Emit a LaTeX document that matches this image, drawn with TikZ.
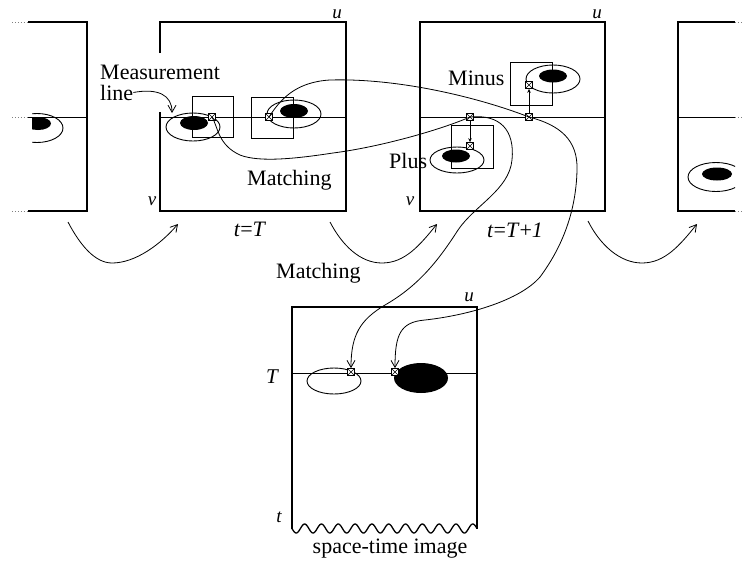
\documentclass[tikz,border=0pt]{standalone}
\usepackage{fontspec}
\setmainfont{Liberation Serif}
\usetikzlibrary{arrows.meta}
\begin{document}
\begin{tikzpicture}[x=1pt,y=-1pt,
  frame/.style={line width=1.3pt},
  mline/.style={line width=1pt},
  stub/.style={line width=0.9pt, dotted, gray},
  winbox/.style={line width=0.7pt},
  ring/.style={line width=0.9pt},
  blob/.style={fill=black},
  conn/.style={line width=0.8pt, -{Straight Barb[length=7pt,width=8pt]}},
  small arrow/.style={line width=0.7pt, -{Stealth[length=4pt,width=3.5pt]}},
  mk/.style={draw, fill=white, rectangle, minimum size=7pt, inner sep=0pt, line width=0.7pt,
    path picture={\draw[line width=0.6pt] (path picture bounding box.south west) -- (path picture bounding box.north east)
      (path picture bounding box.north west) -- (path picture bounding box.south east);}},
  lbl/.style={font=\fontsize{22}{24}\selectfont, inner sep=0pt},
  axis/.style={font=\fontsize{19}{20}\selectfont\itshape, inner sep=0pt},
]
\useasboundingbox (0,0) rectangle (743,563);

% ---------- frame 1 (partial, left) ----------
\draw[stub] (12,22) -- (28,22);
\draw[stub] (12,211) -- (28,211);
\draw[stub] (12,117) -- (28,117);
\draw[frame] (28,22) -- (87,22) -- (87,211) -- (28,211);
\draw[mline] (28,117) -- (87,117);
\begin{scope}
  \clip (32,0) rectangle (87,230);
  \draw[ring] (37,128) ellipse [x radius=26, y radius=14.5];
  \fill[blob] (38,123.5) ellipse [x radius=13, y radius=6.5];
\end{scope}

% ---------- frame 2 (t=T) ----------
\draw[frame] (160,53) -- (160,22) -- (346,22) -- (346,211) -- (160,211) -- (160,112);
\draw[mline] (160,117) -- (346,117);
\node[axis] (u2) at (337,14) {u};
\node[axis] (v2) at (152,201) {v};
\draw[winbox] (192,96) rectangle (233,137);
\draw[ring] (193,127) ellipse [x radius=27, y radius=14];
\fill[blob] (194,123) ellipse [x radius=14, y radius=7];
\draw[winbox] (251,97) rectangle (293,138);
\draw[ring] (294,114) ellipse [x radius=27, y radius=14];
\fill[blob] (294,111) ellipse [x radius=14, y radius=7];
\node[lbl, anchor=base west] (meas1) at (100,79) {Measurement};
\node[lbl, anchor=base west] (meas2) at (100,100) {line};
\node[lbl, anchor=base west] (match1) at (247,185) {Matching};
\node[lbl, anchor=base] (tT) at (250,236) {\textit{t}=\textit{T}};

% ---------- frame 3 (t=T+1) ----------
\draw[frame] (420,22) rectangle (605,211);
\draw[mline] (420,117) -- (605,117);
\node[axis] (u3) at (597,14) {u};
\node[axis] (v3) at (410,201) {v};
\draw[winbox] (510,62) rectangle (552,105);
\draw[ring] (553,79) ellipse [x radius=27, y radius=14];
\fill[blob] (553,76) ellipse [x radius=14, y radius=6.5];
\draw[winbox] (451,125) rectangle (493,168);
\draw[ring] (457,160) ellipse [x radius=27, y radius=13];
\fill[blob] (456,156) ellipse [x radius=14, y radius=6.5];
\node[lbl, anchor=base west] (minus) at (448,85) {Minus};
\node[lbl, anchor=base west] (plus) at (389,168) {Plus};
\node[lbl, anchor=base] (tT1) at (515,237) {\textit{t}=\textit{T}+\textit{1}};

% ---------- frame 4 (partial, right) ----------
\draw[frame] (735,22) -- (678,22) -- (678,211) -- (735,211);
\draw[mline] (678,117) -- (735,117);
\draw[stub] (735,22) -- (743,22);
\draw[stub] (735,117) -- (743,117);
\draw[stub] (735,211) -- (743,211);
\begin{scope}
  \clip (678,0) rectangle (735,230);
  \draw[ring] (716,177) ellipse [x radius=28, y radius=14.5];
  \fill[blob] (717,174) ellipse [x radius=15, y radius=6.5];
\end{scope}

% ---------- space-time image ----------
\draw[frame] (292,529) -- (292,307) -- (477,307) -- (477,529);
\draw[frame] plot[domain=0:185, samples=240, smooth] ({292+\x},{528.5+4.5*sin(21.4057*\x)});
\draw[mline] (292,373) -- (477,373);
\node[axis] (uS) at (469,297) {u};
\node[axis, font=\fontsize{21}{22}\selectfont\itshape] (TS) at (272,377) {T};
\node[axis] (tS) at (279,517) {t};
\draw[ring] (334,381) ellipse [x radius=27, y radius=13];
\fill[blob] (421,378) ellipse [x radius=27, y radius=15];
\node[lbl, anchor=base] (stimg) at (390,553) {space-time image};
\node[lbl, anchor=base west] (match2) at (276,278) {Matching};

% ---------- markers ----------
\node[mk] (m2a) at (212,117) {};
\node[mk] (m2b) at (269,117) {};
\node[mk] (m3p) at (470,117) {};
\node[mk] (m3pb) at (470,146) {};
\node[mk] (m3m) at (529,117) {};
\node[mk] (m3mb) at (529,85) {};
\node[mk] (ms1) at (351,372) {};
\node[mk] (ms2) at (395,372) {};

% ---------- connectors ----------
\draw[conn] (meas2.east) .. controls (158,88) and (172,95) .. (172,113);
\draw[small arrow] (m3p) -- (m3pb);
\draw[small arrow] (m3m) -- (m3mb);

% curve C: left point of frame 2 -> Plus point -> space-time image
\draw[conn] (m2a.center) .. controls (218,127) and (218,145) .. (240,155)
  .. controls (260,163) and (300,158) .. (333,153)
  .. controls (380,147) and (440,130) .. (m3p.center)
  .. controls (500,114) and (515,130) .. (512,160)
  .. controls (509,190) and (475,205) .. (458,230)
  .. controls (440,258) and (420,285) .. (385,305)
  .. controls (360,320) and (351,335) .. (ms1.north);

% curve B: right point of frame 2 -> Minus point -> space-time image
\draw[conn] (m2b.center) .. controls (280,100) and (295,82) .. (330,80)
  .. controls (400,78) and (480,98) .. (m3m.center)
  .. controls (560,125) and (578,140) .. (577,170)
  .. controls (576,215) and (560,250) .. (540,277)
  .. controls (520,300) and (470,315) .. (425,320)
  .. controls (400,322) and (395,335) .. (ms2.north);

% time arrows between frames
\coordinate (a1s) at (68,222);  \coordinate (a1e) at (178,224);
\coordinate (a2s) at (330,222); \coordinate (a2e) at (437,224);
\coordinate (a3s) at (588,221); \coordinate (a3e) at (697,224);
\draw[conn] (a1s) .. controls (80,245) and (95,263) .. (112,263) .. controls (135,263) and (160,245) .. (a1e);
\draw[conn] (a2s) .. controls (342,245) and (360,263) .. (382,263) .. controls (405,263) and (420,245) .. (a2e);
\draw[conn] (a3s) .. controls (600,245) and (620,263) .. (642,263) .. controls (665,263) and (680,245) .. (a3e);
\end{tikzpicture}
\end{document}
